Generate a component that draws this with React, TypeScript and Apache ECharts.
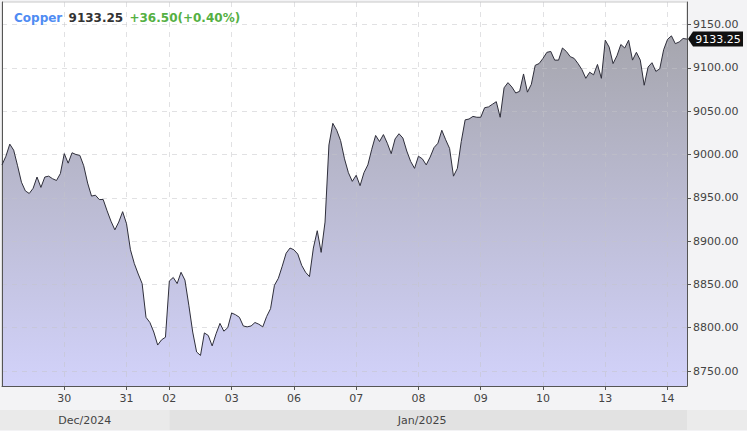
import React, { useEffect, useRef } from "react";
import * as echarts from "echarts";

// ---- data ----
const instrument = "Copper";
const prevClose = 9096.75;

const dayLabels = ["27", "30", "31", "02", "03", "06", "07", "08", "09", "10", "13", "14"];
const monthLabels = ["Dec/2024", "Jan/2025"];
const monthFirstDay = ["27", "02"];

const dec27 = [8988, 8998, 9012, 9005, 8987, 8968, 8958, 8955, 8961, 8974, 8962, 8974, 8975, 8972, 8970, 8978];
const dec30 = [9001, 8990, 9002, 9000, 8999, 8987, 8967, 8952, 8953, 8948, 8948, 8935, 8923, 8913, 8922, 8934];
const dec31 = [8920, 8890, 8874, 8862, 8851, 8812, 8806, 8795, 8780, 8786, 8789];
const jan02 = [8854, 8858, 8851, 8864, 8855, 8826, 8795, 8772, 8768, 8794, 8791, 8779, 8793, 8805, 8796, 8800];
const jan03 = [8817, 8815, 8812, 8802, 8801, 8802, 8806, 8804, 8801, 8813, 8822, 8849, 8857, 8871, 8886, 8892];
const jan06 = [8890, 8885, 8872, 8864, 8859, 8892, 8912, 8887, 8922, 9011, 9036, 9028, 9016, 8995, 8979, 8969];
const jan07 = [8976, 8964, 8979, 8988, 9006, 9022, 9015, 9023, 9013, 9001, 9018, 9024, 9019, 9004, 8992, 8984];
const jan08 = [8998, 8995, 8988, 8997, 9008, 9013, 9028, 9017, 9007, 8975, 8984, 9015, 9040, 9041, 9044, 9043];
const jan09 = [9043, 9054, 9055, 9058, 9061, 9043, 9077, 9083, 9078, 9071, 9073, 9093, 9072, 9081, 9103, 9105];
const jan10 = [9111, 9118, 9119, 9109, 9109, 9123, 9119, 9113, 9111, 9105, 9098, 9088, 9095, 9092, 9104, 9088];
const jan13 = [9132, 9124, 9105, 9114, 9127, 9123, 9132, 9109, 9118, 9109, 9080, 9101, 9106, 9096, 9099, 9121];
const jan14 = [9133, 9137, 9128, 9130, 9134, 9133.25];

const days = [dec27, dec30, dec31, jan02, jan03, jan06, jan07, jan08, jan09, jan10, jan13, jan14];

const yTicks = [8750, 8800, 8850, 8900, 8950, 9000, 9050, 9100, 9150];
const yMin = 8732.7;
const yMax = 9176.1;

export default function App() {
  const ref = useRef<HTMLDivElement>(null);

  useEffect(() => {
    if (!ref.current) return;
    const chart = echarts.init(ref.current, undefined, { renderer: "svg" });

    const categories: string[] = [];
    const values: number[] = [];
    const dayStartIdx: Record<string, number> = {};
    const tickIdx = new Set<number>();
    days.forEach((arr, d) => {
      dayStartIdx[dayLabels[d]] = values.length;
      if (values.length > 0) tickIdx.add(values.length);
      arr.forEach((v, k) => {
        categories.push(`${dayLabels[d]}:${k}`);
        values.push(v);
      });
    });
    const isTick = (i: number) => tickIdx.has(i);
    const last = values[values.length - 1];
    const change = last - prevClose;
    const pct = (change / prevClose) * 100;
    const sign = change >= 0 ? "+" : "-";

    const font = "DejaVu Sans";
    const gridColor = "rgba(195,195,200,0.5)";

    const option: any = {
      animation: false,
      backgroundColor: "#f3f3f5",
      textStyle: { fontFamily: font },
      title: {
        text: `{n|${instrument}} {p|${last.toFixed(2)}} {c|${sign}${Math.abs(change).toFixed(2)}(${sign}${Math.abs(pct).toFixed(2)}%)}`,
        left: 14,
        top: 9,
        padding: 0,
        textStyle: {
          rich: {
            n: { color: "#4f8cf3", fontWeight: "bold", fontSize: 12, fontFamily: font },
            p: { color: "#333", fontWeight: "bold", fontSize: 12, fontFamily: font },
            c: { color: "#55b043", fontWeight: "bold", fontSize: 12, fontFamily: font },
          },
        },
      },
      grid: {
        left: 2,
        right: 60,
        top: 2,
        bottom: 45,
        show: true,
        backgroundColor: "#ffffff",
        borderColor: "#c8c8c8",
        borderWidth: 1,
        containLabel: false,
        outerBoundsMode: "none",
      },
      xAxis: {
        type: "category",
        data: categories,
        boundaryGap: false,
        z: 3,
        axisLine: { lineStyle: { color: "#555", width: 1 } },
        axisTick: { interval: isTick, length: 4, lineStyle: { color: "#555" } },
        axisLabel: {
          interval: isTick,
          formatter: (v: string) => v.split(":")[0],
          color: "#444",
          fontSize: 11,
          margin: 7,
          fontFamily: font,
        },
        splitLine: { show: true, interval: isTick, lineStyle: { color: gridColor, type: [5, 5] } },
      },
      yAxis: [
        {
          type: "value",
          position: "right",
          min: yMin,
          max: yMax,
          z: 3,
          axisLine: { show: true, lineStyle: { color: "#555", width: 1 } },
          axisTick: { show: true, customValues: yTicks, length: 4, lineStyle: { color: "#555" } },
          axisLabel: {
            customValues: yTicks,
            formatter: (v: number) => v.toFixed(2),
            color: "#444",
            fontSize: 11,
            margin: 6,
            fontFamily: font,
          },
          splitLine: { show: true, lineStyle: { color: gridColor, type: [5, 5] } },
        },
        {
          type: "value",
          position: "left",
          min: yMin,
          max: yMax,
          z: 3,
          axisLine: { show: true, lineStyle: { color: "#555", width: 1 } },
          axisTick: { show: false },
          axisLabel: { show: false },
          splitLine: { show: false },
        },
      ],
      series: [
        {
          type: "line",
          data: values,
          symbol: "none",
          z: 1,
          lineStyle: { width: 0 },
          areaStyle: {
            opacity: 1,
            color: new echarts.graphic.LinearGradient(0, 0, 0, 1, [
              { offset: 0, color: "#a6a6ae" },
              { offset: 1, color: "#d2d2fa" },
            ]),
          },
        },
        {
          type: "line",
          data: values,
          symbol: "none",
          z: 4,
          lineStyle: { color: "#2e2e3a", width: 1 },
        },
      ],
    };
    chart.setOption(option);

    // derived decorations from the axes
    const janX = chart.convertToPixel({ xAxisIndex: 0 }, dayStartIdx[monthFirstDay[1]]) as number;
    const endX = chart.convertToPixel({ xAxisIndex: 0 }, values.length - 1) as number;
    const [px, py] = chart.convertToPixel({ seriesIndex: 1 }, [values.length - 1, last]) as number[];
    const bandY = 410;
    const bandH = 20;
    chart.setOption({
      graphic: [
        { type: "rect", shape: { x: 0, y: bandY, width: janX, height: bandH }, style: { fill: "#eaeaea" }, silent: true },
        { type: "rect", shape: { x: janX, y: bandY, width: endX - janX, height: bandH }, style: { fill: "#e2e2e2" }, silent: true },
        { type: "rect", shape: { x: endX, y: bandY, width: 747 - endX, height: bandH }, style: { fill: "#ebebeb" }, silent: true },
        {
          type: "text",
          x: janX / 2,
          y: bandY + bandH / 2,
          style: { text: monthLabels[0], fill: "#444", fontSize: 11, fontFamily: font, textAlign: "center", textVerticalAlign: "middle" },
        },
        {
          type: "text",
          x: (janX + endX) / 2 - 6,
          y: bandY + bandH / 2,
          style: { text: monthLabels[1], fill: "#444", fontSize: 11, fontFamily: font, textAlign: "center", textVerticalAlign: "middle" },
        },
        {
          type: "group",
          x: px,
          y: py,
          z: 10,
          children: [
            { type: "polygon", shape: { points: [[1, 0], [6, -7.5], [56, -7.5], [56, 7.5], [6, 7.5]] }, style: { fill: "#111" } },
            {
              type: "text",
              x: 31,
              y: 0,
              style: { text: last.toFixed(2), fill: "#fff", fontSize: 11, fontFamily: font, textAlign: "center", textVerticalAlign: "middle" },
            },
          ],
        },
      ],
    });

    return () => chart.dispose();
  }, []);

  return <div ref={ref} style={{ position: "fixed", left: 0, top: 0, width: 747, height: 431 }} />;
}
